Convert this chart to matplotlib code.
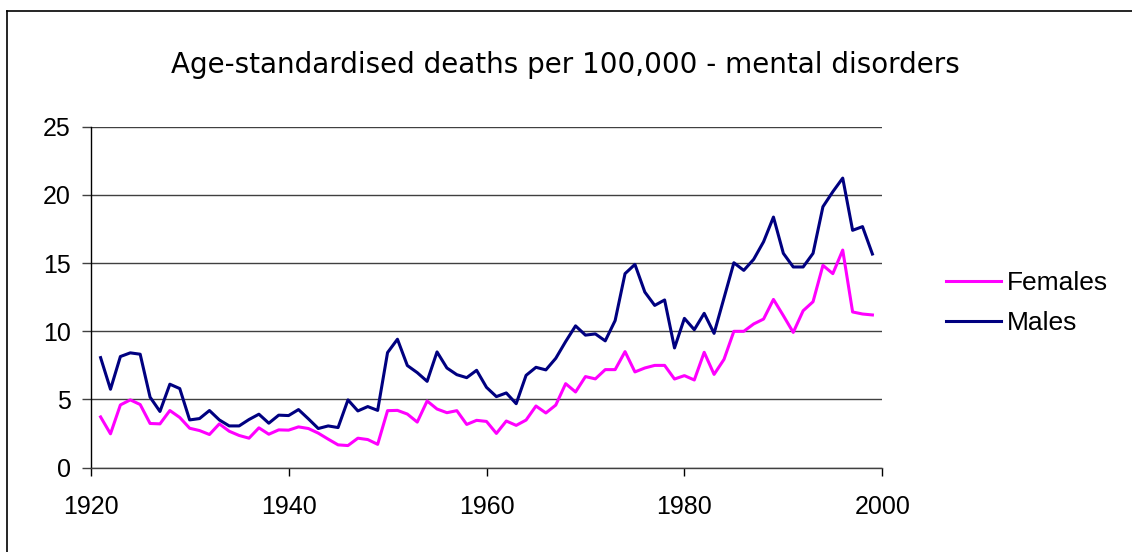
import matplotlib
matplotlib.use("Agg")
import matplotlib.pyplot as plt
from matplotlib.lines import Line2D

years = list(range(1921, 2000))

females = [3.71, 2.47, 4.59, 4.96, 4.62, 3.23, 3.20, 4.18, 3.67, 2.88,
           2.71, 2.42, 3.20, 2.66, 2.35, 2.15, 2.91, 2.44, 2.76, 2.74,
           2.98, 2.86, 2.52, 2.08, 1.66, 1.61, 2.15, 2.05, 1.70, 4.17,
           4.19, 3.92, 3.33, 4.88, 4.29, 4.02, 4.17, 3.16, 3.46, 3.38,
           2.50, 3.41, 3.09, 3.48, 4.51, 4.00, 4.58, 6.15, 5.54, 6.67,
           6.50, 7.18, 7.18, 8.50, 7.01, 7.30, 7.49, 7.49, 6.49, 6.74,
           6.42, 8.45, 6.83, 7.93, 9.99, 9.99, 10.53, 10.89, 12.33, 11.14,
           9.91, 11.50, 12.16, 14.83, 14.22, 15.95, 11.41, 11.26, 11.19]

males = [8.06, 5.74, 8.14, 8.41, 8.31, 5.16, 4.11, 6.11, 5.79, 3.49,
         3.59, 4.18, 3.49, 3.05, 3.05, 3.52, 3.91, 3.25, 3.84, 3.81,
         4.25, 3.57, 2.86, 3.05, 2.93, 4.96, 4.15, 4.47, 4.19, 8.43,
         9.41, 7.48, 6.96, 6.32, 8.48, 7.30, 6.81, 6.59, 7.13, 5.88,
         5.20, 5.47, 4.68, 6.76, 7.35, 7.16, 8.01, 9.24, 10.39, 9.71,
         9.80, 9.29, 10.78, 14.22, 14.90, 12.87, 11.89, 12.29, 8.77, 10.94,
         10.11, 11.31, 9.84, 12.43, 15.02, 14.46, 15.27, 16.56, 18.37, 15.71,
         14.71, 14.71, 15.71, 19.13, 20.23, 21.23, 17.40, 17.67, 15.66]

series_labels = ["Females", "Males"]
title = "Age-standardised deaths per 100,000 - mental disorders"
x_ticks = [1920, 1940, 1960, 1980, 2000]
y_ticks = [0, 5, 10, 15, 20, 25]

W, H = 1132, 552
fig = plt.figure(figsize=(W / 100, H / 100), dpi=100)
fig.patch.set_facecolor("white")

L, R, T, B = 90.7, 882.3, 126.7, 467.5
ax = fig.add_axes([L / W, 1 - B / H, (R - L) / W, (B - T) / H])

ax.plot(years, females, color="#FF00FF", lw=2.2, label=series_labels[0],
        solid_joinstyle="round", clip_on=False)
ax.plot(years, males, color="#000080", lw=2.2, label=series_labels[1],
        solid_joinstyle="round", clip_on=False)

ax.set_xlim(1920, 2000)
ax.set_ylim(0, 25)
ax.set_xticks(x_ticks)
ax.set_yticks(y_ticks)

ax.yaxis.grid(True, color="#404040", lw=1.0)
ax.set_axisbelow(True)

for s in ["top", "right"]:
    ax.spines[s].set_visible(False)
ax.spines["left"].set_color("black")
ax.spines["left"].set_linewidth(1.0)
ax.spines["bottom"].set_color("#404040")
ax.spines["bottom"].set_linewidth(1.0)

font = "Liberation Sans"
ax.tick_params(axis="y", direction="out", length=6.3, width=1.0, color="#404040",
               labelsize=18, pad=8)
ax.tick_params(axis="x", direction="out", length=6, width=1.0, color="black",
               labelsize=18, pad=14)
for lab in ax.get_xticklabels() + ax.get_yticklabels():
    lab.set_fontfamily(font)

fig.text(565 / W, 1 - 65 / H, title, ha="center", va="center",
         fontsize=20, family="DejaVu Sans")

fig.legend(loc="center left", bbox_to_anchor=(945.7 / W, 1 - 303.3 / H),
           frameon=False, borderpad=0, borderaxespad=0, handlelength=2.08,
           handletextpad=0.22, labelspacing=0.6,
           prop={"family": font, "size": 19})

# outer chart border
fig.add_artist(Line2D([7 / W, 7 / W], [0, 1 - 11 / H], color="black", lw=1.2,
                      transform=fig.transFigure))
fig.add_artist(Line2D([7 / W, 1], [1 - 11 / H, 1 - 11 / H], color="black", lw=1.2,
                      transform=fig.transFigure))

fig.savefig("out.png", dpi=100, facecolor="white")
